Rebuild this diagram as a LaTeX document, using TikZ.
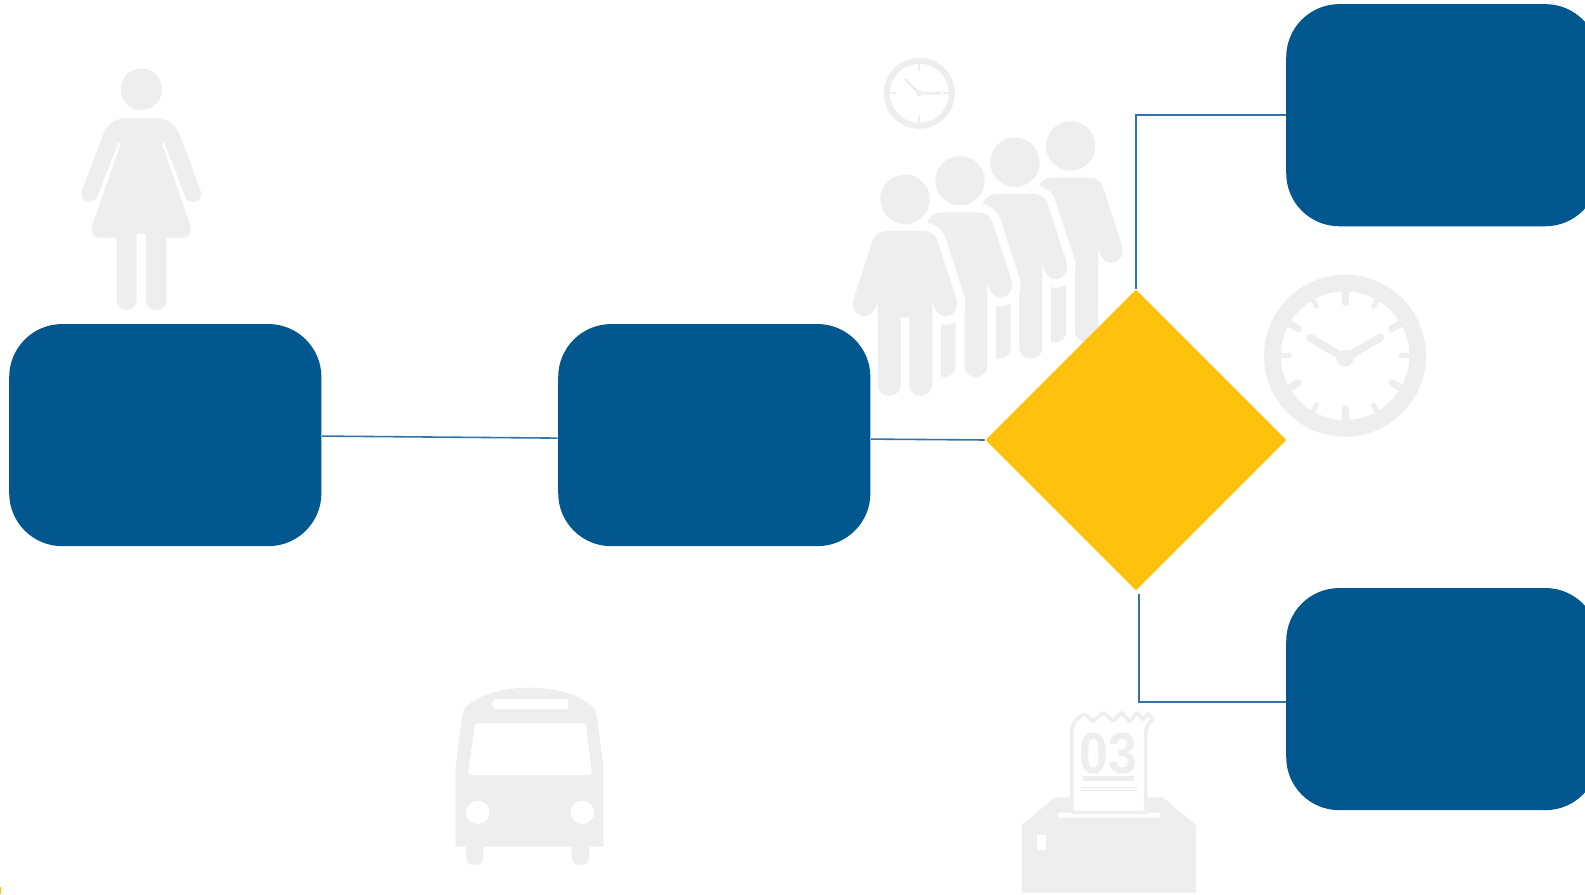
\documentclass[tikz,border=0pt]{standalone}
\usepackage{fontspec}
\setmainfont{Liberation Sans}
\usepackage{tikz}
\usetikzlibrary{shapes.geometric}
\definecolor{qblue}{RGB}{2,87,143}
\definecolor{qyellow}{RGB}{254,194,14}
\definecolor{qgray}{RGB}{238,238,238}
\definecolor{qline}{RGB}{50,115,170}
% One person of the queue, head at the local origin
\newcommand{\queuebody}{(-19,31.7) -- (19,31.7) .. controls (26,31.7) and (31,36) .. (33,43) -- (51.5,100) .. controls (54,110) and (47,117) .. (40.7,117) .. controls (35,117) and (31,113) .. (27.3,103) -- (27.3,184.8) .. controls (27.3,192) and (22,196.3) .. (15.8,196.3) .. controls (9.5,196.3) and (4.3,192) .. (4.3,184.8) -- (4.3,118.3) -- (-4.3,118.3) -- (-4.3,184.8) .. controls (-4.3,192) and (-9.5,196.3) .. (-15.8,196.3) .. controls (-22,196.3) and (-27.3,192) .. (-27.3,184.8) -- (-27.3,103) .. controls (-31,113) and (-35,117) .. (-40.7,117) .. controls (-47,117) and (-54,110) .. (-51.5,100) -- (-33,43) .. controls (-31,36) and (-26,31.7) .. (-19,31.7) -- cycle}

\begin{document}
\begin{tikzpicture}[x=0.01cm, y=-0.01cm,
    roundbox/.style={fill=qblue, minimum width=3.12cm, minimum height=2.22cm, rounded corners=0.53cm, inner sep=0pt},
    gatebox/.style={diamond, aspect=1, fill=qyellow, minimum width=3.01cm, minimum height=3.01cm, inner sep=0pt},
    link/.style={qline, line width=0.45pt}]
  \useasboundingbox (0,0) rectangle (1585,894);

  % Woman
  \fill[qgray] (141.3,89.3) circle [radius=0.207cm];
  \fill[qgray] (125,118.3) -- (158.3,118.3) .. controls (168,118.3) and (177,126) .. (181,138.3) -- (201,191.7) .. controls (203,197) and (199,201.7) .. (194.3,201.7) .. controls (190,201.7) and (187,200.5) .. (186,198.3) -- (164.3,142.7) -- (161.7,143.3) -- (190.3,225) .. controls (192,232) and (189,237.7) .. (184.3,237.7) -- (166.7,237.7) -- (166.7,299) .. controls (166.7,306) and (162,310) .. (156.4,310) .. controls (150.5,310) and (146,306) .. (146,299) -- (146,234) -- (136.7,234) -- (136.7,299) .. controls (136.7,306) and (132,310) .. (126.7,310) .. controls (121,310) and (116.7,306) .. (116.7,299) -- (116.7,237.7) -- (98.3,237.7) .. controls (94,237.7) and (91,232) .. (92.3,225) -- (121,143.3) -- (118.3,142.7) -- (96.7,198.3) .. controls (95,200.5) and (92,201.7) .. (88.3,201.7) .. controls (84,201.7) and (80,197) .. (81.7,191.7) -- (101.7,138.3) .. controls (105,126) and (115,118.3) .. (125,118.3) -- cycle;

  % Small clock
  \draw[qgray, line width=0.06cm] (919.3,93.3) circle [radius=0.325cm];
  \draw[qgray, line width=0.025cm, line cap=round] (905,79.3) -- (919.3,93.3) -- (940,93.3);
  \fill[qgray] (919.3,93.3) circle [radius=0.03cm];
  \draw[qgray, line width=0.02cm] (919.3,64) -- (919.3,70.7) (919.3,116) -- (919.3,122.7) (889,93.3) -- (896,93.3) (943.3,93.3) -- (950,93.3);

  % Queue
  \foreach \px/\py in {1070.7/146, 1015/162.3, 960/180.7, 905/199.3}{
    \begin{scope}[shift={(\px,\py)}]
      \draw[white, fill=white, line width=0.17cm] \queuebody;
      \fill[qgray] \queuebody;
      \fill[qgray] (0,0) circle [radius=0.247cm];
    \end{scope}
  }

  % Large clock
  \begin{scope}[shift={(1345,355.7)}]
    \draw[qgray, line width=0.167cm] (0,0) circle [radius=0.726cm];
    \foreach \a/\r/\w in {90/53/0.07, 270/53/0.07, 0/56/0.055, 180/56/0.055, 30/54/0.07, 150/54/0.07, 210/54/0.07, 330/54/0.07, 60/57/0.05, 120/57/0.05, 240/57/0.05, 300/57/0.05}{
      \draw[qgray, line width=\w cm, line cap=round] (\a:\r) -- (\a:66);
    }
    \draw[qgray, line width=0.08cm, line cap=round] (-35,-18) -- (0,2.5) -- (35,-18);
    \fill[qgray] (0,2.5) circle [radius=0.085cm];
  \end{scope}

  % Bus
  \fill[qgray] (455.7,846.7) -- (455.7,765) -- (462.7,713.3) .. controls (464,703) and (490,687.7) .. (529.3,687.7) .. controls (569,687.7) and (595,703) .. (596.3,713.3) -- (603.3,765) -- (603.3,846.7) -- (589.3,846.7) -- (589.3,856) .. controls (589.3,862) and (586,865) .. (580.5,865) .. controls (575,865) and (571.7,862) .. (571.7,856) -- (571.7,846.7) -- (483.3,846.7) -- (483.3,856) .. controls (483.3,862) and (480,865) .. (474.7,865) .. controls (469,865) and (466,862) .. (466,856) -- (466,846.7) -- cycle;
  \fill[white, rounded corners=0.03cm] (475,723.3) -- (585.7,723.3) -- (592,775) -- (468,775) -- cycle;
  \fill[white] (568.3,699) -- (568.3,709) -- (497,709) .. controls (490,709) and (490,699) .. (497,699) -- cycle;
  \fill[white] (477.7,812.3) circle [radius=0.117cm];
  \fill[white] (582.3,812.3) circle [radius=0.117cm];

  % Ballot box
  \fill[qgray] (1021.7,892.7) -- (1021.7,825) -- (1055,797.3) -- (1162.7,797.3) -- (1196,825) -- (1196,892.7) -- cycle;
  \fill[white, rounded corners=0.02cm] (1057.7,812.7) rectangle (1160,817.7);
  \fill[white] (1037,835) rectangle (1046,850);
  \draw[qgray, fill=white, line width=0.035cm, line join=round] (1071.7,812.3) -- (1071.7,732) .. controls (1071.7,724) and (1076,718) .. (1085,714) -- (1093,721.7) -- (1103.3,712.7) -- (1113.3,720.7) -- (1121.7,712.7) -- (1130,721.7) -- (1136.7,712.7) -- (1142.7,719.3) -- (1148.3,713.7) -- (1153,719.3) .. controls (1147,725) and (1145.7,729) .. (1145.7,735) -- (1145.7,812.3) -- cycle;
  \node[qgray, font=\fontsize{14.7}{15}\selectfont\bfseries, inner sep=0pt, yscale=1.12] (ticketno) at (1108.3,753.3) {03};
  \fill[qgray] (1082.7,776.3) rectangle (1134.3,780.7);
  \draw[qgray, line width=0.008cm] (1080.7,787.3) -- (1137.7,787.3) (1080.7,790.7) -- (1137.7,790.7);

  % Corner mark
  \fill[qyellow] (0,887) rectangle (1.5,894);

  % Boxes
  \node[roundbox] (leftbox) at (165.3,435.1) {};
  \node[roundbox] (midbox) at (714.3,435.1) {};
  \node[roundbox] (upbox) at (1442.3,115.2) {};
  \node[roundbox] (downbox) at (1442.3,699.1) {};
  \node[gatebox] (gate) at (1136,440) {};

  % Links
  \draw[link] ([yshift=-0.01cm]leftbox.east) -- ([yshift=-0.03cm]midbox.west);
  \draw[link] ([yshift=-0.04cm]midbox.east) -- (gate.west);
  \draw[link] (gate.north) |- (upbox.west);
  \draw[link] ([xshift=0.03cm, yshift=-0.03cm]gate.south) |- ([yshift=-0.03cm]downbox.west);
\end{tikzpicture}
\end{document}
